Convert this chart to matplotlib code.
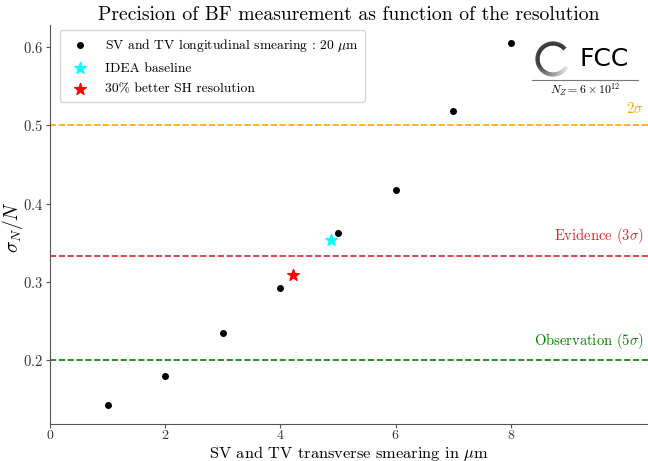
import numpy as np
import matplotlib
import matplotlib.pyplot as plt
from matplotlib.collections import LineCollection

plt.rcParams["font.family"] = "serif"
plt.rcParams["font.serif"] = ["cmr10", "DejaVu Serif"]
plt.rcParams["mathtext.fontset"] = "cm"
plt.rcParams["axes.formatter.use_mathtext"] = True

# Data
smearing = [1, 2, 3, 4, 5, 6, 7, 8]
precision = [0.142, 0.180, 0.234, 0.292, 0.362, 0.418, 0.518, 0.605]
idea_x, idea_y = [4.87], [0.353]
better_x, better_y = [4.22], [0.309]
levels = [0.5, 1 / 3, 0.2]
level_labels = [r"$2\sigma$", r"Evidence $(3\sigma)$", r"Observation $(5\sigma)$"]
level_colors = ["orange", "tab:red", "green"]

fig = plt.figure(figsize=(6.48, 4.61), dpi=100)
ax = fig.add_axes([0.077, 0.08, 0.923, 0.865])

ax.scatter(smearing, precision, color="black", s=16, zorder=3,
           label=r"SV and TV longitudinal smearing : 20 $\mu$m")
ax.scatter(idea_x, idea_y, color="cyan", marker="*", s=75, zorder=3,
           label="IDEA baseline")
ax.scatter(better_x, better_y, color="red", marker="*", s=75, zorder=3,
           label=r"30% better SH resolution")

for lv, lab, c in zip(levels, level_labels, level_colors):
    ax.axhline(lv, color=c, ls="--", lw=1.2)
    ax.text(10.3, lv + 0.012, lab, color=c, ha="right", va="bottom", fontsize=10.5)

ax.set_xlim(0, 10.38)
ax.set_ylim(0.118, 0.628)
ax.set_xticks([0, 2, 4, 6, 8])
ax.set_yticks([0.2, 0.3, 0.4, 0.5, 0.6])
ax.tick_params(labelsize=10.5, color="#555555", labelcolor="#333333",
               pad=2, length=3)
ax.tick_params(axis="x", pad=0.5, labelsize=10)
ax.spines["top"].set_visible(False)
ax.spines["right"].set_visible(False)
ax.spines["left"].set_color("#555555")
ax.spines["bottom"].set_color("#555555")

ax.set_xlabel(r"SV and TV transverse smearing in $\mu$m", fontsize=11.8,
              va="baseline")
ax.xaxis.set_label_coords((349 - 50) / 598, -0.086)
ax.set_ylabel(r"$\sigma_N/N$", fontsize=14)
ax.yaxis.set_label_coords(-0.042, (424 - 227) / 399)
ax.set_title("Precision of BF measurement as function of the resolution",
             fontsize=14.2, pad=3.5)

ax.legend(loc="upper left", fontsize=9.8, frameon=True, handletextpad=0.8,
          borderpad=0.5, labelspacing=0.6, bbox_to_anchor=(0.005, 1.005))

# FCC logo (drawn)
W, H = 648, 461
cx, cy, r = 553 / W, (H - 59) / H, 15.5
theta = np.linspace(np.deg2rad(40), np.deg2rad(330), 140)
xs = cx + r * np.cos(theta) / W
ys = cy + r * np.sin(theta) / H
pts = np.array([xs, ys]).T.reshape(-1, 1, 2)
segs = np.concatenate([pts[:-1], pts[1:]], axis=1)
t = np.linspace(0, 1, len(segs))
shade = np.clip((t - 0.55) / 0.45, 0, 1) * 0.88
cols = [(g, g, g) for g in shade]
lc = LineCollection(segs, colors=cols, linewidths=3.0, transform=fig.transFigure)
fig.add_artist(lc)
fig.text(580 / W, (H - 59) / H, "FCC", family="DejaVu Sans", fontsize=18,
         va="center", ha="left")
fig.add_artist(plt.Line2D([532 / W, 638 / W], [(H - 80) / H] * 2,
                          color="#777777", lw=0.8, transform=fig.transFigure))
fig.text(585 / W, (H - 90) / H, r"$N_Z = 6\times10^{12}$", fontsize=8.5,
         ha="center", va="center")

fig.savefig("out.png", dpi=100)
